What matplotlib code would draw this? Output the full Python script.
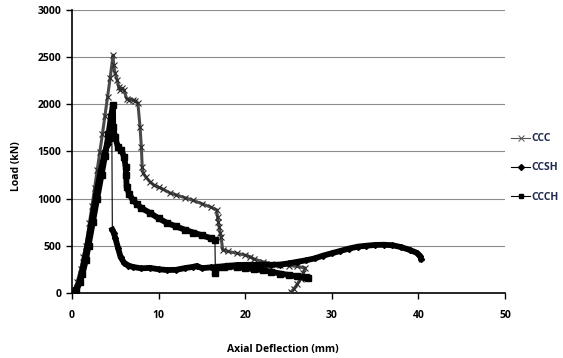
import matplotlib
matplotlib.use('Agg')
import matplotlib.pyplot as plt
from matplotlib.lines import Line2D

plt.rcParams['font.family'] = ['Open Sans', 'DejaVu Sans']
plt.rcParams['font.weight'] = 'bold'

# --- data ---
ccc_x = [0.0, 0.3, 0.6, 1.0, 1.3, 1.6, 2.0, 2.3, 2.6, 2.9, 3.2, 3.5, 3.8, 4.1, 4.4, 4.73,
         4.8, 4.96, 5.2, 5.4, 5.54, 5.8, 6.0, 6.3, 6.6, 7.0, 7.3, 7.6, 7.85, 8.0, 8.1, 8.2,
         8.5, 9.0, 9.5, 10.0, 10.5, 11.3, 12.0, 13.0, 14.0, 15.0, 16.0, 16.7,
         16.8, 16.9, 17.0, 17.1, 17.2, 17.4, 18.0, 19.0, 20.0, 20.6, 21.0, 22.0, 23.0,
         24.0, 25.0, 26.0, 26.9, 26.7, 26.4, 26.0, 25.6, 25.3]
ccc_y = [0, 30, 120, 250, 380, 500, 740, 920, 1110, 1300, 1490, 1680, 1880, 2080, 2280, 2520,
         2420, 2330, 2260, 2180, 2150, 2170, 2150, 2060, 2050, 2046, 2040, 2014, 1760, 1550, 1336, 1272,
         1230, 1177, 1140, 1120, 1100, 1060, 1040, 1010, 980, 945, 910, 880,
         800, 750, 700, 640, 594, 456, 440, 420, 400, 382, 360, 330, 310,
         300, 290, 280, 265, 210, 150, 90, 40, 10]

ccsh_x = [0.0, 0.4, 0.8, 1.1, 1.5, 1.8, 2.3, 2.8, 3.3, 3.7, 4.1, 4.4, 4.6,
          4.65, 4.8, 5.0, 5.3, 5.6, 6.0, 6.5, 7.0, 8.0, 9.0, 10.0, 11.0, 12.0, 13.0, 14.0, 14.4,
          15.0, 16.0, 17.0, 18.0, 19.0, 20.0, 21.0, 22.0, 23.0, 24.0, 25.0, 26.0, 27.0, 28.0,
          29.0, 30.0, 31.0, 32.0, 33.0, 34.0, 35.0, 36.0, 37.0, 38.0, 39.0, 39.8, 40.2, 40.3]
ccsh_y = [0, 30, 100, 200, 380, 520, 780, 1050, 1290, 1460, 1580, 1630, 1640,
          670, 640, 580, 480, 380, 320, 290, 275, 260, 265, 250, 242, 244, 262, 276, 285,
          262, 270, 276, 285, 295, 297, 298, 297, 297, 300, 312, 329, 345, 365,
          395, 420, 445, 470, 490, 500, 508, 510, 505, 485, 455, 425, 390, 360]

ccch_x = [0.0, 0.5, 0.9, 1.2, 1.6, 1.9, 2.4, 2.9, 3.4, 3.8, 4.2, 4.5, 4.73, 4.75,
          4.96, 5.3, 5.7, 6.0, 6.2, 6.25, 6.3, 6.6, 7.0, 7.5, 8.0, 9.0, 10.0, 11.0, 12.0,
          13.0, 14.0, 15.0, 16.0, 16.5,
          16.55, 16.8, 17.5, 18.0, 19.0, 20.0, 21.0, 22.0, 23.0, 24.0, 25.0, 26.0, 27.0, 27.3]
ccch_y = [0, 30, 110, 200, 350, 500, 750, 1000, 1250, 1450, 1680, 1870, 1993, 1760,
          1654, 1548, 1516, 1442, 1336, 1251, 1124, 1050, 986, 940, 900, 848, 790, 740, 705,
          670, 640, 610, 580, 562,
          212, 270, 278, 280, 275, 262, 250, 240, 225, 205, 190, 175, 165, 160]

ccsh_drop = 13   # first point after the sudden load drop
ccch_drop = 34

x_ticks = [0, 10, 20, 30, 40, 50]
y_ticks = [0, 500, 1000, 1500, 2000, 2500, 3000]

fig = plt.figure(figsize=(5.63, 3.58), dpi=100)
ax = fig.add_axes([0.128, 0.182, 0.769, 0.790])

ax.grid(True, axis='y', color='#8c8c8c', linewidth=0.8)
ax.set_axisbelow(True)

# CCC: dark grey band of dense crosses
ax.plot(ccc_x, ccc_y, color='#4a4a4a', linewidth=2.2, marker='x', markersize=4.5,
        markeredgewidth=0.8, markeredgecolor='#2a2a2a', zorder=3)

# CCSH / CCCH: dense black markers -> thick black band, thin line across the drop
ax.plot(ccsh_x, ccsh_y, color='black', linewidth=0.8, marker='D', markersize=3, zorder=4)
ax.plot(ccsh_x[:ccsh_drop], ccsh_y[:ccsh_drop], color='black', linewidth=4.2, zorder=4)
ax.plot(ccsh_x[ccsh_drop:], ccsh_y[ccsh_drop:], color='black', linewidth=4.2, zorder=4)

ax.plot(ccch_x, ccch_y, color='black', linewidth=0.8, marker='s', markersize=4, zorder=5)
ax.plot(ccch_x[:ccch_drop], ccch_y[:ccch_drop], color='black', linewidth=4.2, zorder=5)
ax.plot(ccch_x[ccch_drop:], ccch_y[ccch_drop:], color='black', linewidth=4.2, zorder=5)

ax.set_xlim(0, 50)
ax.set_ylim(0, 3000)
ax.set_xticks(x_ticks)
ax.set_yticks(y_ticks)
ax.tick_params(axis='both', direction='out', length=4, width=1, labelsize=7.5, colors='black')
ax.tick_params(axis='x', pad=8)
for lab in ax.get_xticklabels() + ax.get_yticklabels():
    lab.set_fontweight('bold')
ax.spines['top'].set_visible(False)
ax.spines['right'].set_visible(False)
ax.spines['left'].set_linewidth(1.2)
ax.spines['bottom'].set_linewidth(1.2)

fig.text(0.503, 0.025, 'Axial Deflection (mm)', ha='center', va='center',
         fontsize=7.5, fontweight='bold')
fig.text(0.03, 0.535, 'Load (kN)', ha='center', va='center', rotation=90,
         fontsize=7.5, fontweight='bold')

handles = [
    Line2D([], [], color='#555555', linewidth=0.8, marker='x', markersize=4, markeredgewidth=0.7),
    Line2D([], [], color='black', linewidth=0.8, marker='D', markersize=3),
    Line2D([], [], color='black', linewidth=0.8, marker='s', markersize=3.5),
]
labels = ['CCC', 'CCSH', 'CCCH']
leg = fig.legend(handles, labels, loc='upper left', bbox_to_anchor=(0.908, 0.628),
                 frameon=False, handlelength=1.8, handletextpad=0.1, labelspacing=1.75,
                 borderpad=0, borderaxespad=0, fontsize=7.5, numpoints=1)
for t in leg.get_texts():
    t.set_color('#1f2a4f')
    t.set_fontweight('bold')

fig.savefig('out.png', dpi=100)
